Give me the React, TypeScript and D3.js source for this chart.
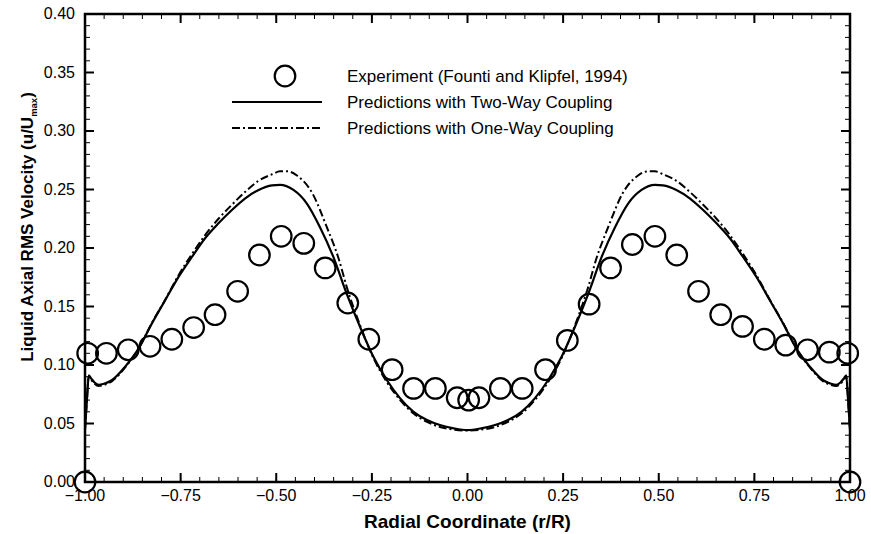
import React from "react";
import * as d3 from "d3";

const expR = [-1.0, -0.993, -0.944, -0.887, -0.83, -0.773, -0.716, -0.66, -0.601, -0.544, -0.487, -0.428, -0.372, -0.313, -0.258, -0.197, -0.141, -0.084, -0.027, 0.003, 0.03, 0.086, 0.143, 0.204, 0.261, 0.318, 0.374, 0.431, 0.49, 0.547, 0.604, 0.662, 0.719, 0.776, 0.832, 0.889, 0.946, 0.994, 1.0];
const expU = [0.0, 0.11, 0.11, 0.113, 0.116, 0.122, 0.132, 0.143, 0.163, 0.194, 0.21, 0.204, 0.183, 0.153, 0.122, 0.096, 0.08, 0.08, 0.072, 0.07, 0.072, 0.08, 0.08, 0.096, 0.121, 0.152, 0.183, 0.203, 0.21, 0.194, 0.163, 0.143, 0.133, 0.122, 0.117, 0.113, 0.111, 0.11, 0.0];

const twoWayR = [-1.0, -0.995, -0.99, -0.985, -0.975, -0.964, -0.95, -0.93, -0.895, -0.86, -0.825, -0.79, -0.755, -0.72, -0.686, -0.651, -0.616, -0.581, -0.546, -0.511, -0.49, -0.455, -0.42, -0.386, -0.351, -0.316, -0.281, -0.246, -0.211, -0.176, -0.141, -0.106, -0.072, -0.036, 0.0, 0.036, 0.072, 0.106, 0.141, 0.176, 0.211, 0.246, 0.281, 0.316, 0.351, 0.386, 0.42, 0.455, 0.49, 0.511, 0.546, 0.581, 0.616, 0.651, 0.686, 0.72, 0.755, 0.79, 0.825, 0.86, 0.895, 0.93, 0.95, 0.964, 0.975, 0.985, 0.99, 0.995, 1.0];
const twoWayU = [0.045, 0.07, 0.091, 0.089, 0.085, 0.083, 0.084, 0.087, 0.0986, 0.114, 0.1356, 0.1556, 0.1755, 0.1926, 0.2083, 0.2211, 0.2325, 0.2425, 0.2496, 0.2535, 0.254, 0.2496, 0.238, 0.218, 0.1926, 0.161, 0.1327, 0.107, 0.0872, 0.0715, 0.06, 0.053, 0.0487, 0.0459, 0.0444, 0.0459, 0.0487, 0.053, 0.06, 0.0715, 0.0872, 0.107, 0.1327, 0.161, 0.1926, 0.218, 0.238, 0.2496, 0.254, 0.2535, 0.2496, 0.2425, 0.2325, 0.2211, 0.2083, 0.1926, 0.1755, 0.1556, 0.1356, 0.114, 0.0986, 0.087, 0.084, 0.083, 0.085, 0.089, 0.091, 0.07, 0.045];

const oneWayR = [-1.0, -0.995, -0.99, -0.985, -0.975, -0.964, -0.95, -0.93, -0.895, -0.86, -0.825, -0.79, -0.755, -0.72, -0.686, -0.651, -0.616, -0.581, -0.546, -0.511, -0.49, -0.47, -0.446, -0.406, -0.368, -0.336, -0.316, -0.281, -0.246, -0.211, -0.176, -0.141, -0.106, -0.072, -0.036, 0.0, 0.036, 0.072, 0.106, 0.141, 0.176, 0.211, 0.246, 0.281, 0.316, 0.336, 0.368, 0.406, 0.446, 0.47, 0.49, 0.511, 0.546, 0.581, 0.616, 0.651, 0.686, 0.72, 0.755, 0.79, 0.825, 0.86, 0.895, 0.93, 0.95, 0.964, 0.975, 0.985, 0.99, 0.995, 1.0];
const oneWayU = [0.045, 0.07, 0.091, 0.088, 0.084, 0.082, 0.083, 0.086, 0.098, 0.114, 0.136, 0.156, 0.177, 0.195, 0.211, 0.225, 0.237, 0.248, 0.2575, 0.263, 0.2655, 0.2655, 0.262, 0.247, 0.218, 0.19, 0.167, 0.134, 0.106, 0.0855, 0.07, 0.0585, 0.0515, 0.047, 0.0448, 0.044, 0.0448, 0.047, 0.0515, 0.0585, 0.07, 0.0855, 0.106, 0.134, 0.167, 0.19, 0.218, 0.247, 0.262, 0.2655, 0.2655, 0.263, 0.2575, 0.248, 0.237, 0.225, 0.211, 0.195, 0.177, 0.156, 0.136, 0.114, 0.098, 0.086, 0.083, 0.082, 0.084, 0.088, 0.091, 0.07, 0.045];

const xTickValues = [-1.0, -0.75, -0.5, -0.25, 0.0, 0.25, 0.5, 0.75, 1.0];
const yTickValues = [0.0, 0.05, 0.1, 0.15, 0.2, 0.25, 0.3, 0.35, 0.4];

const legendLabels = [
  "Experiment (Founti and Klipfel, 1994)",
  "Predictions with Two-Way Coupling",
  "Predictions with One-Way Coupling",
];

const W = 871;
const H = 534;
const L = 85;
const R = 850;
const T = 14;
const B = 482;
const FONT = "'Liberation Sans', Arial, Helvetica, sans-serif";
const DASH = "8,3,2,3";

export default function App() {
  const x = d3.scaleLinear().domain([-1, 1]).range([L, R]);
  const y = d3.scaleLinear().domain([0, 0.4]).range([B, T]);
  const line = d3
    .line<[number, number]>()
    .x((d) => x(d[0]))
    .y((d) => y(d[1]))
    .curve(d3.curveMonotoneX);
  const twoPts: [number, number][] = twoWayR.map((r, i) => [r, twoWayU[i]]);
  const onePts: [number, number][] = oneWayR.map((r, i) => [r, oneWayU[i]]);
  const xMinor = x.ticks(40);
  const yMinor = y.ticks(40);
  const majLen = 9;
  const minLen = 5;

  return (
    <svg
      width={W}
      height={H}
      style={{ position: "absolute", left: 0, top: 0, background: "#fff" }}
      fontFamily={FONT}
    >
      <rect x={0} y={0} width={W} height={H} fill="#fff" />
      <g stroke="#000" strokeWidth={1}>
        {xMinor.map((v, i) => (
          <g key={"xm" + i}>
            <line x1={x(v)} x2={x(v)} y1={B} y2={B - minLen} />
            <line x1={x(v)} x2={x(v)} y1={T} y2={T + minLen} />
          </g>
        ))}
        {yMinor.map((v, i) => (
          <g key={"ym" + i}>
            <line x1={L} x2={L + minLen} y1={y(v)} y2={y(v)} />
            <line x1={R} x2={R - minLen} y1={y(v)} y2={y(v)} />
          </g>
        ))}
      </g>
      <g stroke="#000" strokeWidth={2}>
        {xTickValues.map((v, i) => (
          <g key={"xM" + i}>
            <line x1={x(v)} x2={x(v)} y1={B} y2={B - majLen} />
            <line x1={x(v)} x2={x(v)} y1={T} y2={T + majLen} />
          </g>
        ))}
        {yTickValues.map((v, i) => (
          <g key={"yM" + i}>
            <line x1={L} x2={L + majLen} y1={y(v)} y2={y(v)} />
            <line x1={R} x2={R - majLen} y1={y(v)} y2={y(v)} />
          </g>
        ))}
      </g>
      <rect x={L} y={T} width={R - L} height={B - T} fill="none" stroke="#000" strokeWidth={2.5} />
      <g fontSize={16} fill="#000">
        {xTickValues.map((v, i) => (
          <text key={"xl" + i} x={x(v)} y={B + 19} textAnchor="middle">
            {d3.format(".2f")(v)}
          </text>
        ))}
        {yTickValues.map((v, i) => (
          <text key={"yl" + i} x={L - 10} y={y(v) + 5} textAnchor="end">
            {d3.format(".2f")(v)}
          </text>
        ))}
      </g>
      <text x={(L + R) / 2} y={528} textAnchor="middle" fontSize={19} fontWeight="bold">
        Radial Coordinate (r/R)
      </text>
      <text transform={`translate(33,227) rotate(-90)`} textAnchor="middle" fontSize={17} fontWeight="bold">
        Liquid Axial RMS Velocity (u/U
        <tspan fontSize={9.5} dy={4}>max</tspan>
        <tspan dy={-4}>)</tspan>
      </text>
      <path d={line(onePts) || ""} fill="none" stroke="#000" strokeWidth={2} strokeDasharray={DASH} />
      <path d={line(twoPts) || ""} fill="none" stroke="#000" strokeWidth={2.2} />
      <g fill="none" stroke="#000" strokeWidth={2.2}>
        {expR.map((r, i) => (
          <circle key={"c" + i} cx={x(r)} cy={y(expU[i])} r={10.3} />
        ))}
      </g>
      <g>
        <circle cx={285} cy={76} r={10.3} fill="none" stroke="#000" strokeWidth={2.2} />
        <line x1={232} x2={322} y1={102} y2={102} stroke="#000" strokeWidth={2.2} />
        <line x1={232} x2={322} y1={128} y2={128} stroke="#000" strokeWidth={2} strokeDasharray={DASH} />
        {legendLabels.map((t, i) => (
          <text key={"lg" + i} x={347} y={82 + i * 26} fontSize={17} fill="#000">
            {t}
          </text>
        ))}
      </g>
    </svg>
  );
}
